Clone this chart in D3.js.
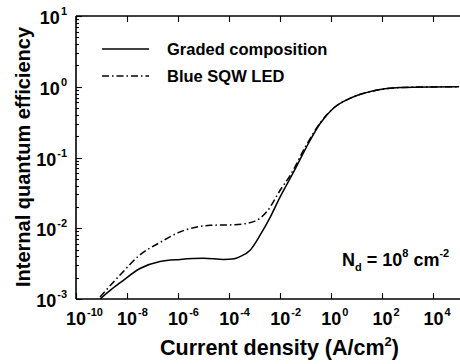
<!DOCTYPE html>
<html>
<head>
<meta charset="utf-8">
<script src="https://cdn.jsdelivr.net/npm/d3@7"></script>
<style>
  html, body { margin: 0; padding: 0; background: #fff; }
  svg { display: block; }
  text { font-family: "Liberation Sans", Arial, sans-serif; font-weight: bold; fill: #000; }
</style>
</head>
<body>
<svg id="chart" width="460" height="364"></svg>
<script>
// Current density (A/cm^2) and internal quantum efficiency for each device
const gradedJ   = [8.7e-10, 2.5e-9, 5.4e-9, 3.2e-8, 1.95e-7, 1.2e-6, 1e-5, 6e-5, 1.6e-4, 2.7e-4, 6.6e-4, 1.66e-3, 4.1e-3, 1e-2, 3.3e-2, 0.1, 0.37, 1.23, 5.6, 34, 510, 1e4, 1e5];
const gradedIQE = [1.0e-3, 1.38e-3, 1.7e-3, 2.7e-3, 3.4e-3, 3.63e-3, 3.76e-3, 3.63e-3, 3.72e-3, 3.98e-3, 4.9e-3, 8.1e-3, 1.45e-2, 2.8e-2, 6.2e-2, 0.135, 0.305, 0.50, 0.69, 0.855, 0.975, 0.995, 1.0];
const sqwJ      = [8.7e-10, 5.4e-9, 3.2e-8, 1.95e-7, 1.2e-6, 5e-6, 1.8e-5, 1.5e-4, 8.9e-4, 3.0e-3, 1e-2, 2.45e-2, 0.1, 0.37, 1.23, 5.6, 34, 510, 1e4, 1e5];
const sqwIQE    = [1.07e-3, 2.2e-3, 4.2e-3, 6.3e-3, 8.9e-3, 1.035e-2, 1.1e-2, 1.12e-2, 1.24e-2, 1.72e-2, 3.47e-2, 5.6e-2, 0.145, 0.31, 0.50, 0.69, 0.855, 0.975, 0.995, 1.0];

const seriesNames = ["Graded composition", "Blue SQW LED"];
const xTickExponents = [-10, -8, -6, -4, -2, 0, 2, 4];
const yTickExponents = [-3, -2, -1, 0, 1];

const svg = d3.select("#chart");
const plotL = 76, plotR = 459, plotT = 16, plotB = 299;

const x = d3.scaleLog().domain([1e-10, 1e5]).range([plotL, plotR]);
const y = d3.scaleLog().domain([1e-3, 1e1]).range([plotB, plotT]);

// clip the curves to the plotting frame
svg.append("defs").append("clipPath").attr("id", "plot")
  .append("rect").attr("x", plotL).attr("y", plotT).attr("width", plotR - plotL).attr("height", plotB - plotT);

const line = d3.line()
  .x(d => x(d[0]))
  .y(d => y(d[1]))
  .curve(d3.curveMonotoneX);

const curves = svg.append("g").attr("clip-path", "url(#plot)");
curves.append("path")
  .attr("d", line(d3.zip(gradedJ, gradedIQE)))
  .attr("fill", "none").attr("stroke", "#000").attr("stroke-width", 1.5);
curves.append("path")
  .attr("d", line(d3.zip(sqwJ, sqwIQE)))
  .attr("fill", "none").attr("stroke", "#000").attr("stroke-width", 1.5)
  .attr("stroke-dasharray", "7,3,1.5,3");

// frame: left, bottom and top axis lines
const axes = svg.append("g").attr("stroke", "#000").attr("stroke-width", 1.6);
axes.append("line").attr("x1", plotL).attr("x2", plotL).attr("y1", plotT).attr("y2", plotB);
axes.append("line").attr("x1", plotL).attr("x2", plotR + 2).attr("y1", plotB).attr("y2", plotB);
axes.append("line").attr("x1", plotL).attr("x2", plotR + 2).attr("y1", plotT).attr("y2", plotT);

const isMajor = v => Math.abs(Math.log10(v) - Math.round(Math.log10(v))) < 1e-6;

// x ticks (inward, bottom and top)
const xt = svg.append("g").attr("stroke", "#000").attr("stroke-width", 1.1);
x.ticks().forEach(v => {
  const px = Math.round(x(v)) + 0.5;
  const len = isMajor(v) ? 6 : 3;
  xt.append("line").attr("x1", px).attr("x2", px).attr("y1", plotB).attr("y2", plotB - len);
  xt.append("line").attr("x1", px).attr("x2", px).attr("y1", plotT).attr("y2", plotT + len);
});

// y ticks (inward)
const yt = svg.append("g").attr("stroke", "#000").attr("stroke-width", 1.1);
y.ticks().forEach(v => {
  const py = Math.round(y(v)) + 0.5;
  const len = isMajor(v) ? 6 : 3;
  yt.append("line").attr("x1", plotL).attr("x2", plotL + len).attr("y1", py).attr("y2", py);
});

// power-of-ten labels
function powerLabel(g, exp, px, py, anchor) {
  const t = g.append("text").attr("y", py).attr("font-size", 18);
  t.append("tspan").text("10");
  t.append("tspan").attr("font-size", 11).attr("dy", -9).attr("dx", 1).text(exp < 0 ? "-" + (-exp) : String(exp));
  const base = t.node().firstChild.getComputedTextLength();
  const total = t.node().getComputedTextLength() + 1;
  if (anchor === "center") t.attr("x", px - base / 2);
  else t.attr("x", px - total);
}

const xl = svg.append("g");
xTickExponents.forEach(e => powerLabel(xl, e, x(Math.pow(10, e)), 325, "center"));
const yl = svg.append("g");
yTickExponents.forEach(e => powerLabel(yl, e, 67, y(Math.pow(10, e)) + 8, "end"));

// axis titles
const xTitle = svg.append("text").attr("x", 160).attr("y", 355).attr("font-size", 21.5);
xTitle.append("tspan").text("Current density (A/cm");
xTitle.append("tspan").attr("font-size", 13).attr("dy", -9).text("2");
xTitle.append("tspan").attr("dy", 9).text(")");

svg.append("text")
  .attr("transform", "translate(30,157) rotate(-90)")
  .attr("text-anchor", "middle").attr("font-size", 20)
  .text("Internal quantum efficiency");

// legend
const legend = svg.append("g");
const legendRows = [{ y: 49, dash: null }, { y: 76, dash: "7,3,1.5,3" }];
legendRows.forEach((r, i) => {
  legend.append("line").attr("x1", 102).attr("x2", 149).attr("y1", r.y).attr("y2", r.y)
    .attr("stroke", "#000").attr("stroke-width", 1.5)
    .attr("stroke-dasharray", r.dash);
  legend.append("text").attr("x", 167).attr("y", r.y + 6).attr("font-size", 16.5).text(seriesNames[i]);
});

// doping annotation
const note = svg.append("text").attr("x", 342).attr("y", 266).attr("font-size", 18);
note.append("tspan").text("N");
note.append("tspan").attr("font-size", 11).attr("dy", 5).text("d");
note.append("tspan").attr("dy", -5).text(" = 10");
note.append("tspan").attr("font-size", 11).attr("dy", -9).text("8");
note.append("tspan").attr("dy", 9).text(" cm");
note.append("tspan").attr("font-size", 11).attr("dy", -9).text("-2");
</script>
</body>
</html>
